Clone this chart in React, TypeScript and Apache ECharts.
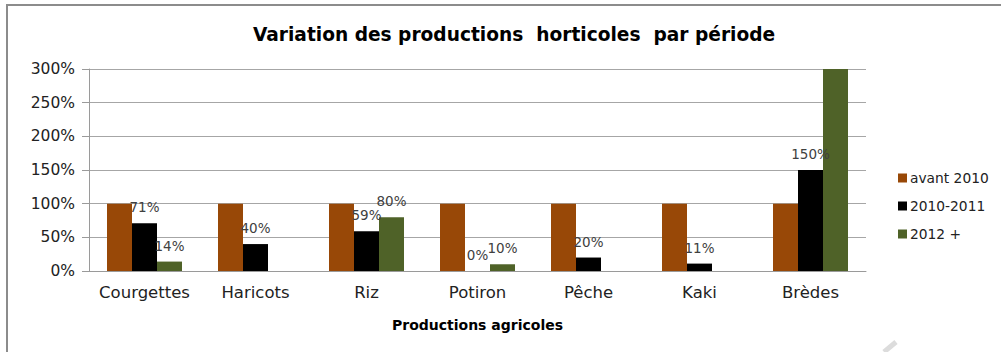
import React, { useEffect, useRef } from "react";
import * as echarts from "echarts";

const categories = ["Courgettes", "Haricots", "Riz", "Potiron", "Pêche", "Kaki", "Brèdes"];
const avant2010 = [100, 100, 100, 100, 100, 100, 100];
const periode2010_2011 = [71, 40, 59, 0, 20, 11, 150];
const periode2012 = [14, null, 80, 10, null, null, 300];
const seriesNames = ["avant 2010", "2010-2011", "2012 +"];
const yTicks = { min: 0, max: 300, interval: 50 };

const FONT = "DejaVu Sans";

export default function App() {
  const ref = useRef<HTMLDivElement>(null);

  useEffect(() => {
    if (!ref.current) return;
    const chart = echarts.init(ref.current, undefined, { renderer: "svg" });

    const valueLabel = {
      show: true,
      position: "top" as const,
      distance: 9,
      fontFamily: FONT,
      fontSize: 13.5,
      color: "#404040",
      formatter: (p: any) => `${p.value}%`,
    };

    // the 2012+ bar for Brèdes runs off the top of the axis and carries no label
    const greenData = periode2012.map((v, i) =>
      i === categories.length - 1 ? { value: v, label: { show: false } } : v
    );

    chart.setOption({
      animation: false,
      backgroundColor: "#ffffff",
      title: {
        text: "Variation des productions  horticoles  par période",
        left: 509,
        top: 20,
        textAlign: "center",
        textStyle: { fontFamily: FONT, fontSize: 18.6, fontWeight: "bold", color: "#000" },
      },
      legend: {
        orient: "vertical",
        left: 893,
        top: 166,
        itemWidth: 9,
        itemHeight: 9,
        itemGap: 14,
        icon: "rect",
        textStyle: { fontFamily: FONT, fontSize: 13.8, color: "#222", padding: [0, 0, 0, -2] },
        data: seriesNames,
      },
      grid: { left: 89, right: 135, top: 69, bottom: 81, containLabel: false },
      xAxis: {
        type: "category",
        data: categories,
        name: "Productions agricoles",
        nameLocation: "middle",
        nameGap: 47,
        nameTextStyle: { fontFamily: FONT, fontSize: 14, fontWeight: "bold", color: "#000" },
        axisLine: { lineStyle: { color: "#9a9a9a", width: 1 } },
        axisTick: { show: false },
        axisLabel: {
          interval: 0,
          hideOverlap: false,
          fontFamily: FONT,
          fontSize: 16.5,
          color: "#222",
          margin: 13,
        },
      },
      yAxis: {
        type: "value",
        min: yTicks.min,
        max: yTicks.max,
        interval: yTicks.interval,
        axisLine: { show: true, lineStyle: { color: "#9a9a9a", width: 1 } },
        axisTick: { show: true, length: 7, lineStyle: { color: "#9a9a9a" } },
        splitLine: { lineStyle: { color: "#a6a6a6", width: 1 } },
        axisLabel: {
          fontFamily: FONT,
          fontSize: 15.5,
          color: "#222",
          margin: 14,
          formatter: "{value}%",
        },
      },
      series: [
        {
          name: seriesNames[0],
          type: "bar",
          data: avant2010,
          barWidth: 25,
          barGap: "0%",
          itemStyle: { color: "#984807" },
        },
        {
          name: seriesNames[1],
          type: "bar",
          data: periode2010_2011,
          barWidth: 25,
          barGap: "0%",
          itemStyle: { color: "#000000" },
          label: valueLabel,
        },
        {
          name: seriesNames[2],
          type: "bar",
          data: greenData,
          barWidth: 25,
          barGap: "0%",
          itemStyle: { color: "#4f6228" },
          label: valueLabel,
        },
      ],
      graphic: [
        {
          type: "rect",
          shape: { x: 7, y: 5, width: 1100, height: 400 },
          style: { fill: "none", stroke: "#8c8c8c", lineWidth: 2 },
          silent: true,
        },
        {
          type: "line",
          shape: { x1: 884, y1: 352, x2: 896, y2: 342 },
          style: { stroke: "#dcdcdc", lineWidth: 5 },
          silent: true,
        },
      ],
    });

    return () => chart.dispose();
  }, []);

  return (
    <div
      ref={ref}
      style={{ position: "fixed", left: 0, top: 0, width: 1001, height: 352 }}
    />
  );
}
